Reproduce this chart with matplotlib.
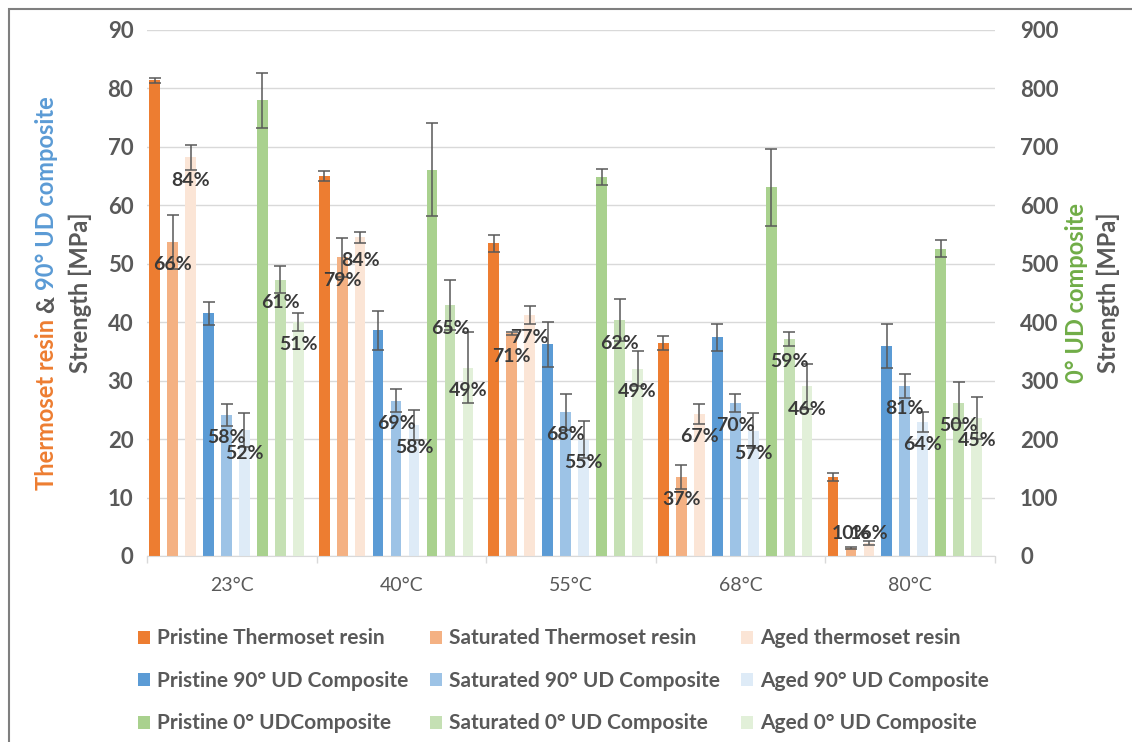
import numpy as np
import matplotlib
matplotlib.use('Agg')
import matplotlib.pyplot as plt
from matplotlib.patches import Rectangle

plt.rcParams['font.family'] = ['Lato', 'DejaVu Sans']

temps = ['23°C', '40°C', '55°C', '68°C', '80°C']

# resin + 90 deg composite -> left axis [MPa]
pristine_resin = [81.4, 65.0, 53.5, 36.4, 13.5]
pristine_resin_err = [0.4, 0.8, 1.5, 1.2, 0.7]
sat_resin = [53.7, 51.1, 38.1, 13.5, 1.4]
sat_resin_err = [4.6, 3.3, 0.3, 2.0, 0.2]
aged_resin = [68.2, 54.5, 41.2, 24.3, 2.2]
aged_resin_err = [2.2, 0.9, 1.5, 1.7, 0.3]
pristine_90 = [41.5, 38.6, 36.2, 37.4, 35.9]
pristine_90_err = [1.9, 3.3, 3.8, 2.3, 3.8]
sat_90 = [24.1, 26.6, 24.6, 26.2, 29.1]
sat_90_err = [1.9, 1.9, 3.1, 1.6, 2.0]
aged_90 = [21.5, 22.4, 19.9, 21.4, 22.9]
aged_90_err = [2.9, 2.5, 3.2, 3.0, 1.7]

# 0 deg composite -> right axis [MPa]
pristine_0 = [780, 661, 648, 631, 526]
pristine_0_err = [47, 79, 14, 66, 14]
sat_0 = [473, 429, 403, 371, 262]
sat_0_err = [23, 43, 36, 12, 35]
aged_0 = [400, 322, 320, 290, 236]
aged_0_err = [15, 61, 30, 38, 36]

# retention labels
sat_resin_lbl = ['66%', '79%', '71%', '37%', '10%']
aged_resin_lbl = ['84%', '84%', '77%', '67%', '16%']
sat_90_lbl = ['58%', '69%', '68%', '70%', '81%']
aged_90_lbl = ['52%', '58%', '55%', '57%', '64%']
sat_0_lbl = ['61%', '65%', '62%', '59%', '50%']
aged_0_lbl = ['51%', '49%', '49%', '46%', '45%']

gray = '#595959'
txt = '#3A3A3A'

series = [
    ('Pristine Thermoset resin', pristine_resin, pristine_resin_err, '#ED7D31', None, 'L'),
    ('Saturated Thermoset resin', sat_resin, sat_resin_err, '#F4B183', sat_resin_lbl, 'L'),
    ('Aged thermoset resin', aged_resin, aged_resin_err, '#FBE5D6', aged_resin_lbl, 'L'),
    ('Pristine 90° UD Composite', pristine_90, pristine_90_err, '#5B9BD5', None, 'L'),
    ('Saturated 90° UD Composite', sat_90, sat_90_err, '#9DC3E6', sat_90_lbl, 'L'),
    ('Aged 90° UD Composite', aged_90, aged_90_err, '#DEEBF7', aged_90_lbl, 'L'),
    ('Pristine 0° UDComposite', pristine_0, pristine_0_err, '#A9D18E', None, 'R'),
    ('Saturated 0° UD Composite', sat_0, sat_0_err, '#C5E0B4', sat_0_lbl, 'R'),
    ('Aged 0° UD Composite', aged_0, aged_0_err, '#E2F0D9', aged_0_lbl, 'R'),
]

fig = plt.figure(figsize=(11.32, 7.42), dpi=100)
ax = fig.add_axes([0.130, 0.2507, 0.749, 0.7089])
ax2 = ax.twinx()

x = np.arange(len(temps))
step = 0.106
w = 0.063
handles = []
for i, (name, vals, err, col, lbl, side) in enumerate(series):
    a = ax if side == 'L' else ax2
    pos = x + (i - 4) * step - 0.032
    b = a.bar(pos, vals, w, color=col, label=name, zorder=2)
    a.errorbar(pos, vals, yerr=err, fmt='none', ecolor=gray, elinewidth=1.1,
               capsize=4.3, capthick=1.1, zorder=3)
    handles.append(b)
    if lbl is not None:
        off = 3.9 if side == 'L' else 39
        for p, v, s in zip(pos, vals, lbl):
            y = v - off if v > 2 * off else off
            ax2.text(p, y, s, transform=a.transData, ha='center', va='center',
                     fontsize=14, fontweight='bold', color=txt, zorder=5)

ax.set_ylim(0, 90)
ax.set_yticks(np.arange(0, 91, 10))
ax2.set_ylim(0, 900)
ax2.set_yticks(np.arange(0, 901, 100))
ax.set_xlim(-0.5, 4.5)
ax.set_xticks(x)
ax.set_xticklabels(temps)
ax.set_xticks(np.arange(-0.5, 4.6, 1), minor=True)

ax.yaxis.grid(True, color='#D9D9D9', linewidth=1, zorder=0)
ax.set_axisbelow(True)
for a in (ax, ax2):
    for sp in ['top', 'left', 'right', 'bottom']:
        a.spines[sp].set_visible(False)
ax.spines['bottom'].set_visible(True)
ax.spines['bottom'].set_color('#D9D9D9')
ax.tick_params(axis='x', which='major', length=0, pad=15, labelsize=14, labelcolor=gray)
ax.tick_params(axis='x', which='minor', length=5, color='#D9D9D9', width=1)
ax.tick_params(axis='y', length=0, pad=10, labelsize=16, labelcolor=gray)
ax2.tick_params(axis='y', length=0, pad=18, labelsize=16, labelcolor=gray)
for t in ax.get_yticklabels() + ax2.get_yticklabels():
    t.set_fontweight('bold')

# legend, row-wise order
order = [0, 3, 6, 1, 4, 7, 2, 5, 8]
fig.legend([handles[k] for k in order], [series[k][0] for k in order],
           ncol=3, loc='upper left', bbox_to_anchor=(0.122, 0.153), frameon=False,
           prop={'size': 15, 'weight': 'bold'}, labelcolor=gray,
           handlelength=0.58, handleheight=0.58, handletextpad=0.35,
           columnspacing=1.0, labelspacing=1.08, borderpad=0, borderaxespad=0)

# multi-coloured axis titles
W, H = 1132, 742
fig.canvas.draw()
r = fig.canvas.get_renderer()


def vlen(s, size):
    t = fig.text(0, 0, s, rotation=90, fontsize=size, fontweight='bold')
    h = t.get_window_extent(r).height
    t.remove()
    return h


def vtitle(pieces, xpx, ypx, size):
    sp = vlen('a a', size) - vlen('aa', size)
    lens = [vlen(s, size) for s, c in pieces]
    y0 = ypx - (sum(lens) + sp * (len(pieces) - 1)) / 2
    for (s, c), l in zip(pieces, lens):
        fig.text(xpx / W, y0 / H, s, rotation=90, ha='center', va='bottom',
                 fontsize=size, fontweight='bold', color=c)
        y0 += l + sp


ymid = H - 293
vtitle([('Thermoset resin', '#ED7D31'), ('&', gray), ('90° UD composite', '#5B9BD5')], 47, ymid, 17)
vtitle([('Strength [MPa]', gray)], 80, ymid, 17)
vtitle([('0° UD composite', '#70AD47')], 1077, ymid, 17)
vtitle([('Strength [MPa]', gray)], 1108, ymid, 17)

# chart frame
fig.patches.append(Rectangle((9 / W, -0.1), 1.2, 1.1 - 9 / H, transform=fig.transFigure,
                             fill=False, edgecolor='#7F7F7F', linewidth=1.5))

fig.savefig('out.png', dpi=100)
